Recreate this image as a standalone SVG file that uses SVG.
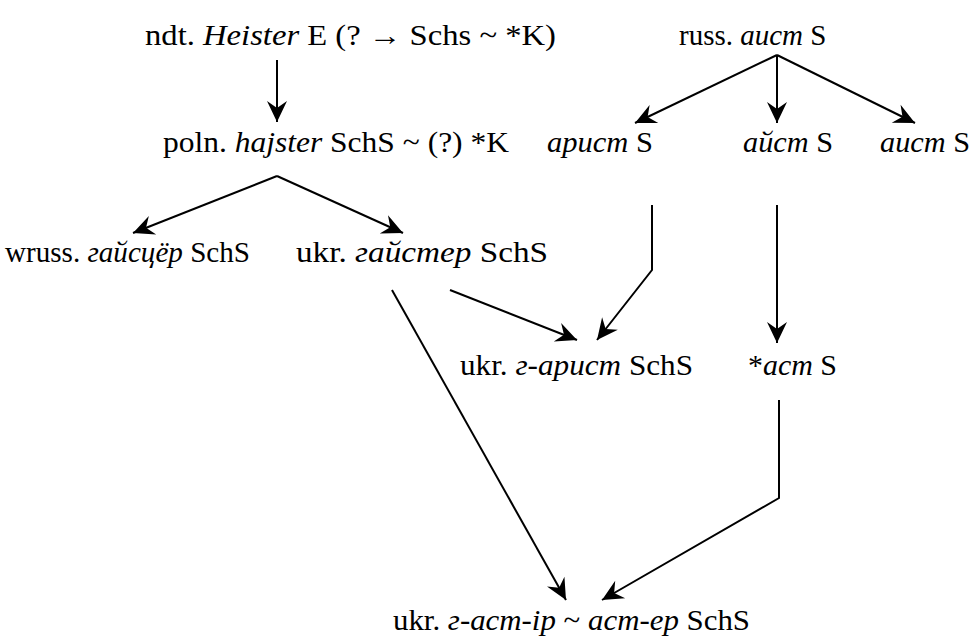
<svg xmlns="http://www.w3.org/2000/svg" width="971" height="643" viewBox="0 0 971 643">
  <style>
    .lbl { font-family: 'Liberation Serif', serif; font-size: 29px; fill: #000; }
    .i { font-style: italic; }
    .edge { fill: none; stroke: #000; stroke-width: 2; }
  </style>
  <defs>
    <marker id="arrow" markerUnits="userSpaceOnUse" markerWidth="24" markerHeight="24" viewBox="-20 -12 22 24" refX="0" refY="0" orient="auto" overflow="visible">
      <path d="M0,0 L-21,-10 L-14,0 L-21,10 Z" fill="#000"/>
    </marker>
  </defs>
  <rect width="971" height="643" fill="#fff"/>

  <g id="edges">
    <path class="edge" d="M277,60 L277,122" marker-end="url(#arrow)"/>
    <path class="edge" d="M777,55 L635,123" marker-end="url(#arrow)"/>
    <path class="edge" d="M777,55 L777,123" marker-end="url(#arrow)"/>
    <path class="edge" d="M777,55 L915,123" marker-end="url(#arrow)"/>
    <path class="edge" d="M277,176 L133,233" marker-end="url(#arrow)"/>
    <path class="edge" d="M277,176 L403,233" marker-end="url(#arrow)"/>
    <path class="edge" d="M652,205 L652,270 L597,340" marker-end="url(#arrow)"/>
    <path class="edge" d="M450,290 L577,340" marker-end="url(#arrow)"/>
    <path class="edge" d="M777,205 L777,343" marker-end="url(#arrow)"/>
    <path class="edge" d="M392,290 L566,600" marker-end="url(#arrow)"/>
    <path class="edge" d="M779,400 L779,498 L602,600" marker-end="url(#arrow)"/>
  </g>

  <g font-family="Liberation Serif" font-size="29">
  <g id="ndt-heister">
    <text class="lbl" x="145" y="45" textLength="411" lengthAdjust="spacingAndGlyphs">ndt. <tspan class="i">Heister</tspan> E (? → Schs ~ *K)</text>
  </g>
  <g id="russ-aist">
    <text class="lbl" x="679" y="45">russ. <tspan class="i">аист</tspan> S</text>
  </g>
  <g id="poln-hajster">
    <text class="lbl" x="163" y="152" textLength="346" lengthAdjust="spacingAndGlyphs">poln. <tspan class="i">hajster</tspan> SchS ~ (?) *K</text>
  </g>
  <g id="arist">
    <text class="lbl" x="547" y="152" textLength="106" lengthAdjust="spacingAndGlyphs"><tspan class="i">арист</tspan> S</text>
  </g>
  <g id="ajst">
    <text class="lbl" x="743" y="152" textLength="90" lengthAdjust="spacingAndGlyphs"><tspan class="i">айст</tspan> S</text>
  </g>
  <g id="aist">
    <text class="lbl" x="880" y="152" textLength="90" lengthAdjust="spacingAndGlyphs"><tspan class="i">аист</tspan> S</text>
  </g>
  <g id="wruss-gajscer">
    <text class="lbl" x="5" y="262" textLength="245" lengthAdjust="spacingAndGlyphs">wruss. <tspan class="i">гайсцёр</tspan> SchS</text>
  </g>
  <g id="ukr-gajster">
    <text class="lbl" x="296" y="262" textLength="252" lengthAdjust="spacingAndGlyphs">ukr. <tspan class="i">гайстер</tspan> SchS</text>
  </g>
  <g id="ukr-g-arist">
    <text class="lbl" x="460" y="375" textLength="233" lengthAdjust="spacingAndGlyphs">ukr. <tspan class="i">г-арист</tspan> SchS</text>
  </g>
  <g id="ast">
    <text class="lbl" x="748" y="375" textLength="89" lengthAdjust="spacingAndGlyphs">*<tspan class="i">аст</tspan> S</text>
  </g>
  <g id="ukr-g-ast-ir">
    <text class="lbl" x="393" y="630" textLength="357" lengthAdjust="spacingAndGlyphs">ukr. <tspan class="i">г-аст-ір</tspan> ~ <tspan class="i">аст-ер</tspan> SchS</text>
  </g>
  </g>
</svg>
